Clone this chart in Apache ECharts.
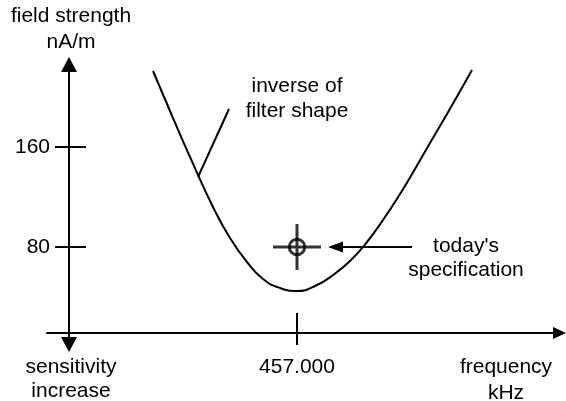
<!DOCTYPE html>
<html>
<head>
<meta charset="utf-8">
<script src="https://cdn.jsdelivr.net/npm/echarts@6/dist/echarts.min.js"></script>
<style>
html,body{margin:0;padding:0;background:#fff;}
#chart{width:566px;height:401px;}
</style>
</head>
<body>
<div id="chart"></div>
<script>
// ---- data ----
const freqKHz = [451.24, 452.04, 452.72, 453.64, 454.32, 455.0, 455.64, 456.32, 457.0, 457.8, 458.44, 459.12, 459.8, 460.44, 461.12, 461.72, 462.32, 463.0, 463.64, 464.0];
const fieldStrength = [220.8, 183.2, 152, 112, 87.2, 68, 54.4, 47.2, 44.8, 49.6, 57.6, 68.8, 84, 101.6, 122.4, 142.4, 163.2, 186.4, 208.8, 221.6];
const specPoint = [457.0, 80];
const xTickValues = [457];
const yTickValues = [80, 160];
const filterPointer = [[454.28, 190.4], [453.04, 136]];
const specArrow = [[461.6, 80], [458.54, 80]];
const xRange = [447, 467.5];
const yRange = [2, 226];

const FONT = '"Liberation Sans", Arial, sans-serif';
const FS = 21;
const BLACK = '#000';

const chart = echarts.init(document.getElementById('chart'), null, {renderer: 'canvas'});

const curveData = freqKHz.map((x, i) => [x, fieldStrength[i]]);

function baseX(extra) {
  return Object.assign({
    type: 'value', min: xRange[0], max: xRange[1], position: 'bottom', offset: -11.5,
    splitLine: {show: false}, axisLine: {onZero: false}
  }, extra);
}
function baseY(extra) {
  return Object.assign({
    type: 'value', min: yRange[0], max: yRange[1], position: 'left', offset: -22,
    splitLine: {show: false}, axisLine: {onZero: false}
  }, extra);
}

const option = {
  animation: false,
  backgroundColor: '#fff',
  grid: {left: 47, right: 6.5, top: 64.5, bottom: 56.5, outerBoundsMode: 'none', containLabel: false},
  xAxis: [
    baseX({
      axisLine: {show: true, onZero: false, symbol: ['none', 'triangle'], symbolSize: [12, 13], lineStyle: {color: BLACK, width: 2}},
      axisTick: {show: true, inside: true, length: 20, customValues: xTickValues, lineStyle: {color: BLACK, width: 2}},
      axisLabel: {show: true, customValues: xTickValues, margin: 24, formatter: v => v.toFixed(3), color: BLACK, fontSize: FS, fontFamily: FONT}
    }),
    baseX({
      axisLine: {show: false, onZero: false},
      axisTick: {show: true, inside: false, length: 12, customValues: xTickValues, lineStyle: {color: BLACK, width: 2}},
      axisLabel: {show: false}
    })
  ],
  yAxis: [
    baseY({
      axisLine: {show: true, onZero: false, symbol: ['triangle', 'triangle'], symbolSize: [16, 15], lineStyle: {color: BLACK, width: 2}},
      axisTick: {show: true, inside: false, length: 14, customValues: yTickValues, lineStyle: {color: BLACK, width: 2}},
      axisLabel: {show: true, customValues: yTickValues, margin: 19, color: BLACK, fontSize: FS, fontFamily: FONT}
    }),
    baseY({
      axisLine: {show: false, onZero: false},
      axisTick: {show: true, inside: true, length: 17, customValues: yTickValues, lineStyle: {color: BLACK, width: 2}},
      axisLabel: {show: false}
    })
  ],
  series: [
    {
      type: 'line', xAxisIndex: 0, yAxisIndex: 0,
      data: curveData, smooth: 0.5, showSymbol: false,
      lineStyle: {color: BLACK, width: 2},
      silent: true,
      markLine: {
        silent: true, animation: false,
        label: {show: false},
        lineStyle: {color: BLACK, width: 2, type: 'solid'},
        data: [
          [{coord: filterPointer[0], symbol: 'none'}, {coord: filterPointer[1], symbol: 'none'}],
          [{coord: specArrow[0], symbol: 'none'}, {coord: specArrow[1], symbol: 'triangle', symbolSize: [11, 15]}]
        ]
      }
    },
    {
      type: 'scatter', xAxisIndex: 0, yAxisIndex: 0, silent: true,
      data: [specPoint],
      symbol: 'path://M0,21.5H48V24.5H0Z M22.5,0H25.5V46H22.5Z',
      symbolSize: [48, 46],
      itemStyle: {color: BLACK}
    },
    {
      type: 'scatter', xAxisIndex: 0, yAxisIndex: 0, silent: true,
      data: [specPoint],
      symbol: 'circle', symbolSize: 15.5,
      itemStyle: {color: 'rgba(0,0,0,0)', borderColor: BLACK, borderWidth: 3}
    }
  ],
  graphic: [
    {type: 'text', x: 71, y: 29, style: {text: 'field strength\nnA/m', align: 'center', verticalAlign: 'middle', font: FS + 'px ' + FONT, lineHeight: 26, fill: BLACK}},
    {type: 'text', x: 71, y: 379, style: {text: 'sensitivity\nincrease', align: 'center', verticalAlign: 'middle', font: FS + 'px ' + FONT, lineHeight: 24, fill: BLACK}},
    {type: 'text', x: 506, y: 380, style: {text: 'frequency\nkHz', align: 'center', verticalAlign: 'middle', font: FS + 'px ' + FONT, lineHeight: 26, fill: BLACK}},
    {type: 'text', x: 297, y: 98.5, style: {text: 'inverse of\nfilter shape', align: 'center', verticalAlign: 'middle', font: FS + 'px ' + FONT, lineHeight: 25, fill: BLACK}},
    {type: 'text', x: 466, y: 258, style: {text: "today's\nspecification", align: 'center', verticalAlign: 'middle', font: FS + 'px ' + FONT, lineHeight: 24, fill: BLACK}}
  ]
};
chart.setOption(option);
</script>
</body>
</html>
